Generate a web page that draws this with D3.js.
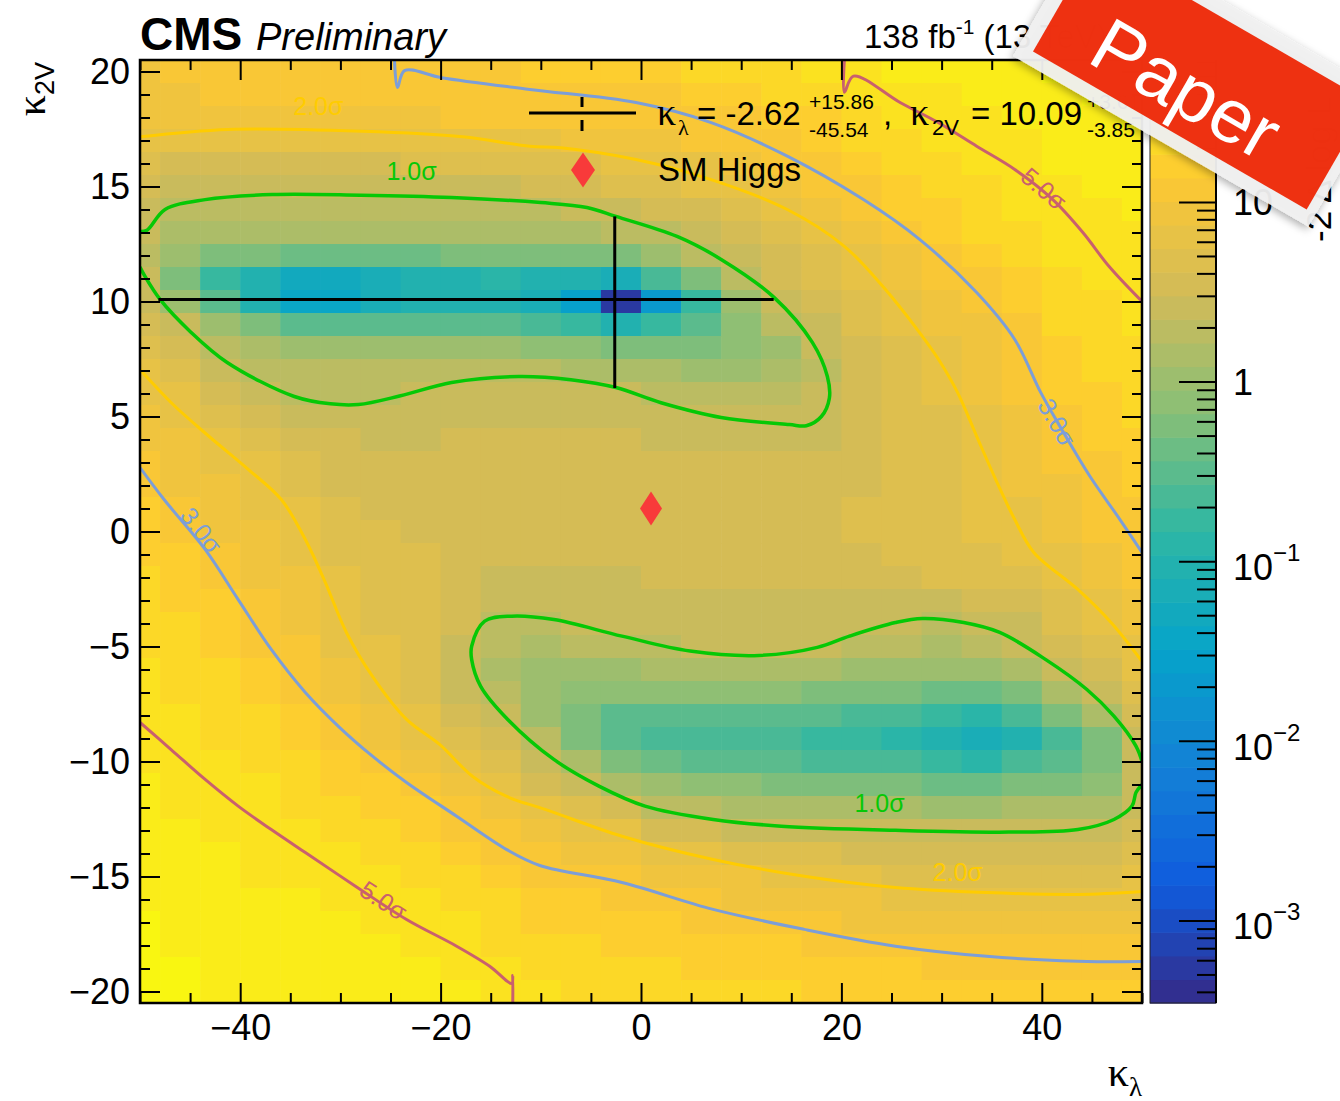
<!DOCTYPE html>
<html>
<head>
<meta charset="utf-8">
<title>kappa_lambda vs kappa_2V likelihood scan</title>
<script src="https://cdn.jsdelivr.net/npm/d3@7/dist/d3.min.js"></script>
<style>
  html, body { margin: 0; padding: 0; background: #fff; }
  svg { display: block; }
</style>
</head>
<body>
<svg id="chart" width="1340" height="1101"></svg>
<script>
// ---------------------------------------------------------------------------
// Scan grid: bin centres in kappa_lambda (4 units wide) and kappa_2V (1 unit)
// ---------------------------------------------------------------------------
const kappaLambdaBins = [-50, -46, -42, -38, -34, -30, -26, -22, -18, -14, -10, -6, -2,
                         2, 6, 10, 14, 18, 22, 26, 30, 34, 38, 42, 46, 50];
const kappa2VBins = [20, 19, 18, 17, 16, 15, 14, 13, 12, 11, 10, 9, 8, 7, 6, 5, 4, 3, 2, 1, 0,
                     -1, -2, -3, -4, -5, -6, -7, -8, -9, -10, -11, -12, -13, -14, -15, -16, -17, -18, -19, -20];

// -2 delta log L per bin, one row per kappa_2V bin (top to bottom)
const deltaNLL = [
  [10, 10.5, 10.8, 11, 11.2, 11.5, 11.7, 12.1, 12.5, 13, 14, 15, 16, 18, 20, 22, 24, 27, 30, 34, 38, 41, 44.5, 48, 52, 57],
  [9.2, 9.8, 10.1, 10.3, 10.5, 10.7, 10.9, 11.1, 11.3, 11.5, 11.6, 11.8, 12.3, 13.5, 15, 17, 19.5, 22, 25.5, 29.5, 33, 37, 41, 45, 49, 53],
  [8.0, 8.7, 9.0, 9.2, 9.3, 9.5, 9.7, 9.9, 10.1, 10.3, 10.6, 10.9, 11.2, 11.6, 12, 13.5, 15.5, 18, 21, 25, 29, 33, 37, 41.5, 45.5, 49],
  [6.0, 5.7, 5.6, 5.6, 5.6, 5.7, 5.8, 5.9, 6.05, 6.3, 6.9, 7.6, 8.5, 9.5, 10.8, 11.6, 13, 15.5, 18.5, 22, 26.5, 29.5, 33, 38, 42, 45],
  [4.5, 4.0, 3.9, 3.9, 3.9, 3.9, 4.0, 4.1, 4.3, 4.6, 5.0, 5.4, 5.9, 6.4, 7.4, 8.6, 10.5, 12.8, 15.5, 19, 23.5, 26.5, 30.5, 34.5, 38.5, 41.5],
  [3.4, 2.9, 2.7, 2.6, 2.6, 2.6, 2.65, 2.7, 2.8, 3.0, 3.3, 3.7, 4.2, 4.8, 5.6, 6.6, 8.2, 10.8, 13.5, 17, 21, 24, 27.8, 31.5, 35, 38],
  [2.7, 2.2, 2.05, 2.0, 2.0, 2.0, 2.0, 2.05, 2.1, 2.15, 2.2, 2.28, 2.6, 3.1, 3.8, 4.8, 6.0, 7.8, 10.8, 14, 18, 22, 25.5, 28.7, 32, 35],
  [2.35, 1.6, 1.4, 1.3, 1.3, 1.3, 1.3, 1.3, 1.3, 1.3, 1.35, 1.45, 1.7, 2.2, 2.9, 3.8, 4.9, 6.1, 8, 11, 15.3, 18.5, 22.5, 27, 30, 33],
  [2.2, 0.9, 0.6, 0.5, 0.45, 0.45, 0.45, 0.48, 0.5, 0.5, 0.5, 0.5, 0.6, 0.9, 1.8, 2.8, 4.0, 5.2, 6.6, 9.0, 12.4, 16, 20, 25, 28.9, 31.8],
  [2.3, 0.6, 0.15, 0.08, 0.05, 0.05, 0.07, 0.09, 0.1, 0.11, 0.1, 0.08, 0.06, 0.2, 0.6, 1.9, 3.2, 4.5, 5.7, 7.6, 10.8, 13.5, 17.5, 23.5, 26.8, 30.2],
  [2.7, 1.2, 0.3, 0.08, 0.035, 0.04, 0.06, 0.08, 0.09, 0.08, 0.06, 0.03, 0.0005, 0.02, 0.15, 0.9, 2.4, 3.6, 4.9, 6.5, 9.6, 11.7, 15.5, 21.5, 24.5, 28.7],
  [3.4, 2.5, 1.2, 0.5, 0.3, 0.28, 0.3, 0.32, 0.33, 0.3, 0.25, 0.18, 0.1, 0.15, 0.3, 0.8, 1.8, 3.0, 4.2, 5.6, 8.3, 10.0, 13, 19.8, 22.5, 26.5],
  [4.4, 3.4, 2.1, 1.4, 1.1, 1.05, 1.05, 1.1, 1.1, 1.0, 0.85, 0.7, 0.6, 0.55, 0.55, 0.7, 1.2, 2.4, 3.6, 5.0, 7.1, 9.0, 12.0, 18, 20.5, 24.3],
  [6.1, 4.6, 3.0, 2.1, 1.8, 1.7, 1.7, 1.75, 1.8, 1.75, 1.65, 1.55, 1.45, 1.3, 1.2, 1.2, 1.5, 2.2, 3.3, 4.7, 5.9, 8.2, 11.2, 16.3, 18.5, 22.2],
  [7.4, 5.5, 4.0, 2.8, 2.2, 2.05, 2.15, 2.3, 2.45, 2.55, 2.55, 2.45, 2.35, 2.15, 1.95, 1.9, 2.0, 2.3, 3.2, 4.5, 5.6, 7.6, 10.5, 14.6, 16.8, 20.2],
  [8.7, 6.5, 5.0, 3.8, 2.9, 2.7, 2.6, 2.65, 2.8, 2.9, 2.9, 2.8, 2.75, 2.6, 2.4, 2.25, 2.25, 2.4, 3.1, 4.3, 5.4, 7.0, 9.6, 12.8, 15, 18.5],
  [10.0, 7.6, 5.9, 4.7, 3.6, 3.1, 2.95, 3.0, 3.1, 3.2, 3.2, 3.1, 3.05, 3.0, 2.85, 2.75, 2.75, 2.9, 3.4, 4.3, 5.3, 6.3, 8.6, 11.4, 13.8, 17],
  [11.6, 8.8, 6.9, 5.5, 4.3, 3.55, 3.3, 3.3, 3.3, 3.4, 3.35, 3.3, 3.25, 3.2, 3.1, 3.05, 3.1, 3.3, 3.7, 4.4, 5.2, 6.0, 7.8, 10.4, 12.8, 15.8],
  [13.0, 10.0, 7.9, 6.4, 4.9, 4.0, 3.6, 3.55, 3.45, 3.5, 3.45, 3.4, 3.35, 3.35, 3.3, 3.3, 3.4, 3.6, 4.0, 4.6, 5.3, 5.7, 7.5, 9.4, 12.1, 14.6],
  [14.5, 11.2, 9.0, 7.2, 5.6, 4.4, 3.9, 3.75, 3.55, 3.5, 3.45, 3.4, 3.45, 3.45, 3.45, 3.5, 3.6, 3.8, 4.2, 4.8, 5.4, 5.8, 6.8, 8.4, 11.2, 13.5],
  [16, 12.7, 10.0, 8.1, 6.2, 4.85, 4.2, 3.95, 3.6, 3.4, 3.35, 3.35, 3.4, 3.45, 3.5, 3.55, 3.7, 3.95, 4.35, 4.9, 5.4, 5.9, 6.2, 7.6, 10.3, 12.5],
  [17.5, 14.3, 11.0, 8.9, 7.0, 5.25, 4.5, 4.1, 3.6, 3.2, 3.15, 3.2, 3.2, 3.3, 3.4, 3.45, 3.55, 3.75, 4.05, 4.5, 5.0, 5.4, 5.9, 6.8, 9.2, 11.7],
  [19, 15.9, 12.2, 9.8, 7.9, 5.6, 4.8, 4.25, 3.55, 2.9, 2.85, 2.95, 3.0, 3.1, 3.2, 3.2, 3.25, 3.35, 3.5, 3.8, 4.1, 4.6, 5.2, 6.0, 8.2, 10.8],
  [20.5, 17.6, 14.0, 10.6, 8.7, 5.9, 5.0, 4.35, 3.4, 2.55, 2.5, 2.65, 2.75, 2.85, 2.9, 2.9, 2.9, 2.9, 2.85, 2.9, 3.0, 3.4, 4.0, 5.1, 7.0, 9.6],
  [22, 19.2, 15.8, 11.5, 9.5, 6.4, 5.2, 4.45, 3.1, 2.2, 2.1, 2.35, 2.5, 2.55, 2.65, 2.65, 2.6, 2.55, 2.45, 2.25, 2.2, 2.45, 3.0, 4.2, 5.9, 8.2],
  [23.5, 20.9, 17.5, 12.5, 10.4, 7.0, 5.5, 4.55, 2.8, 1.8, 1.6, 1.7, 1.9, 2.2, 2.35, 2.4, 2.4, 2.3, 2.0, 1.7, 1.6, 1.8, 2.3, 3.3, 4.8, 6.9],
  [25, 22.5, 19.3, 15.1, 11.2, 8.8, 5.85, 4.7, 2.7, 1.6, 1.2, 1.2, 1.2, 1.4, 1.5, 1.5, 1.45, 1.4, 1.2, 1.0, 0.9, 1.0, 1.3, 2.4, 3.7, 5.9],
  [26.5, 24.2, 21.1, 17.1, 12.5, 10.0, 6.5, 5.0, 2.8, 1.8, 1.0, 0.8, 0.7, 0.7, 0.7, 0.7, 0.7, 0.65, 0.6, 0.5, 0.4, 0.45, 0.6, 1.3, 2.8, 4.9],
  [28.2, 25.8, 22.9, 19.2, 14.9, 11.2, 8.2, 5.6, 3.2, 2.4, 1.1, 0.55, 0.35, 0.3, 0.3, 0.3, 0.3, 0.28, 0.25, 0.2, 0.15, 0.14, 0.22, 0.5, 1.5, 3.9],
  [30.2, 27.4, 24.6, 21.2, 17.3, 13.0, 10.0, 6.9, 4.2, 3.3, 1.7, 0.6, 0.3, 0.25, 0.22, 0.2, 0.2, 0.18, 0.15, 0.12, 0.08, 0.06, 0.1, 0.22, 0.6, 3.0],
  [32, 29.1, 26.4, 23.3, 19.7, 15.6, 11.8, 8.9, 5.9, 4.4, 2.8, 1.3, 0.6, 0.45, 0.35, 0.3, 0.28, 0.25, 0.22, 0.2, 0.15, 0.13, 0.2, 0.3, 0.5, 2.35],
  [34, 31.1, 28.2, 25.4, 22.0, 18.3, 14.5, 11.1, 8.2, 5.5, 4.0, 2.6, 1.6, 1.0, 0.8, 0.7, 0.65, 0.6, 0.55, 0.5, 0.45, 0.45, 0.5, 0.65, 0.8, 2.35],
  [36, 33, 30.1, 27.4, 24.4, 20.9, 17.3, 13.8, 10.6, 7.7, 6.1, 4.9, 3.2, 2.2, 1.8, 1.6, 1.5, 1.4, 1.35, 1.3, 1.2, 1.2, 1.3, 1.4, 1.6, 3.0],
  [38, 35, 32, 29.5, 26.8, 23.5, 20.0, 16.7, 13.3, 10.2, 8.6, 7.2, 5.5, 4.0, 3.5, 3.0, 2.7, 2.5, 2.3, 2.3, 2.3, 2.25, 2.3, 2.35, 2.6, 3.7],
  [40, 37, 33.9, 31.6, 29.2, 26.2, 22.8, 19.6, 16.3, 12.7, 10.9, 9.6, 8.0, 6.9, 5.9, 5.0, 4.6, 4.2, 3.9, 3.7, 3.6, 3.6, 3.6, 3.6, 3.8, 4.6],
  [42, 39, 35.8, 33.6, 31.5, 28.8, 25.6, 22.4, 19.3, 15.8, 13.1, 12.0, 10.9, 9.8, 8.5, 7.5, 6.7, 6.0, 5.6, 5.3, 5.1, 5.0, 5.0, 5.0, 5.2, 5.6],
  [44, 41, 37.7, 35.6, 33.8, 31.4, 28.4, 25.3, 22.4, 18.8, 15.5, 14.4, 13.4, 12.4, 11.0, 10.0, 9.0, 8.2, 7.8, 7.3, 7.0, 6.8, 6.7, 6.6, 6.7, 6.8],
  [46, 43, 39.6, 37.6, 36, 34, 31.1, 28.2, 25.4, 21.8, 17.9, 16.7, 15.7, 14.7, 13.4, 12.5, 11.6, 10.7, 10.0, 9.5, 9.1, 8.8, 8.6, 8.5, 8.5, 8.6],
  [48, 45, 41.5, 39.6, 38.2, 36.5, 33.8, 31, 28.4, 24.8, 20.3, 19.0, 18.0, 17.0, 15.7, 14.8, 14.0, 13.1, 12.3, 11.7, 11.2, 10.9, 10.6, 10.4, 10.4, 10.5],
  [50, 47, 43.4, 41.6, 40.4, 39, 36.4, 33.8, 31.3, 27.8, 22.7, 21.3, 20.3, 19.3, 18.0, 17.1, 16.3, 15.4, 14.6, 14.0, 13.4, 13.1, 12.8, 12.5, 12.5, 12.5],
  [52, 49, 45.3, 43.6, 42.5, 41.5, 39, 36.5, 34, 30.8, 25.1, 23.6, 22.6, 21.6, 20.3, 19.4, 18.6, 17.7, 16.9, 16.3, 15.7, 15.4, 15.0, 14.8, 14.8, 14.8]
];

// ---------------------------------------------------------------------------
// Confidence contours, as (kappa_lambda, kappa_2V) points
// ---------------------------------------------------------------------------
const sigma1Upper = [[-50, 13.04], [-49.3, 13.1], [-47.5, 14.0], [-43.5, 14.43], [-36.8, 14.65], [-28, 14.62],
  [-18.9, 14.52], [-10, 14.3], [-5.4, 14.09], [-2.5, 13.7], [3.6, 12.83], [8.0, 11.83], [13.3, 10.17],
  [17.1, 8.22], [18.6, 6.74], [18.8, 5.8], [18.0, 5.0], [16.5, 4.6], [14.8, 4.65], [8.0, 4.96], [2, 5.6],
  [-2.5, 6.26], [-7, 6.6], [-12.2, 6.74], [-18.9, 6.48], [-24, 5.9], [-28.2, 5.52], [-31, 5.55],
  [-34.6, 5.87], [-41.3, 7.35], [-45, 8.7], [-48, 10.09], [-49.5, 11.09], [-50, 11.5]];
const sigma1Lower = [[50, -10.0], [49.4, -9.33], [47.2, -8.03], [44.5, -6.87], [40.4, -5.57], [35.8, -4.39],
  [32.2, -3.96], [28.1, -3.78], [25.4, -3.96], [20.8, -4.55], [17.6, -5.04], [11.8, -5.39], [4.9, -5.2],
  [-1.9, -4.55], [-8.7, -3.83], [-12.9, -3.68], [-15.6, -3.9], [-16.9, -4.99], [-16.9, -5.57], [-16.0, -6.73],
  [-13.3, -8.17], [-8.7, -9.91], [-4.2, -11.07], [0.4, -11.94], [7.2, -12.52], [14.0, -12.81], [25.4, -12.99],
  [36.7, -13.07], [43.6, -12.96], [47.2, -12.52], [49.0, -11.94], [49.4, -11.35], [50, -11.0]];
const sigma2Upper = [[-50, 17.16], [-41.2, 17.48], [-27.8, 17.4], [-17.8, 17.16], [-11.1, 16.75], [-8.0, 16.68],
  [-0.5, 16.17], [7.0, 15.3], [14.6, 14.0], [20.3, 12.4], [24.1, 10.67], [27.8, 8.65], [29.7, 7.48],
  [31.6, 6.04], [33.5, 4.14], [35.4, 2.26], [37.3, 0.52], [39.2, -0.91], [43.6, -2.52], [47, -4.0], [50, -5.65]];
const sigma2Lower = [[-50, 7.04], [-46.7, 5.52], [-43.1, 4.13], [-39.2, 2.7], [-35.9, 1.39], [-33.5, -0.35],
  [-31.5, -2.22], [-29.4, -4.39], [-26.8, -6.3], [-23.4, -8.17], [-20.1, -9.26], [-16.8, -10.65],
  [-13.4, -11.52], [-9.5, -12.09], [-1.9, -13.25], [7.2, -14.26], [16.3, -14.99], [25.4, -15.48],
  [34.5, -15.7], [43.6, -15.78], [50, -15.65]];
const sigma3Upper = [[-24.6, 20.5], [-24.3, 19.3], [-23.6, 20.04], [-19.9, 19.73], [-11.1, 19.22], [-0.5, 18.65],
  [7.0, 17.78], [14.6, 16.32], [22.2, 14.43], [27.8, 12.7], [33.5, 10.39], [37.3, 8.35], [39.9, 6.04],
  [41.8, 4.58], [44.8, 2.4], [47.8, 0.52], [50, -0.91]];
const sigma3Lower = [[-50, 2.78], [-47.6, 1.39], [-43.5, -0.78], [-40.2, -2.96], [-36.9, -5.13], [-33.5, -7.0],
  [-30.2, -8.47], [-26.8, -9.77], [-23.4, -10.91], [-18.4, -12.38], [-13.4, -13.83], [-10.1, -14.52],
  [-1.9, -15.26], [7.2, -16.43], [16.3, -17.3], [25.4, -18.03], [34.5, -18.47], [43.6, -18.68], [50, -18.7]];
const sigma5Upper = [[20.3, 20.5], [20.3, 19.1], [21.2, 19.8], [25.9, 18.64], [29.7, 17.77], [33.5, 16.75],
  [37.3, 15.74], [41.1, 14.43], [44.1, 13.0], [46.7, 11.53], [50, 10.0]];
const sigma5Lower = [[-50, -8.3], [-46.9, -9.48], [-43.5, -10.78], [-40.2, -11.94], [-36.9, -12.96],
  [-33.5, -13.96], [-28.5, -15.42], [-23.4, -16.87], [-18.4, -18.03], [-15.1, -18.9], [-12.9, -19.65],
  [-12.8, -19.3], [-12.8, -20.5]];

// Contour labels: text, position in (kappa_lambda, kappa_2V), rotation
const contourLabels = [
  { text: "1.0σ", kl: -22.9, k2v: 15.65, angle: 0, level: 1 },
  { text: "2.0σ", kl: -32.2, k2v: 18.5, angle: 0, level: 2 },
  { text: "5.0σ", kl: 40.2, k2v: 14.9, angle: 40, level: 5 },
  { text: "3.0σ", kl: 41.5, k2v: 4.75, angle: 60, level: 3 },
  { text: "3.0σ", kl: -43.9, k2v: 0.05, angle: 52, level: 3 },
  { text: "5.0σ", kl: -25.7, k2v: -16.05, angle: 33, level: 5 },
  { text: "1.0σ", kl: 23.8, k2v: -11.8, angle: 0, level: 1 },
  { text: "2.0σ", kl: 31.6, k2v: -14.8, angle: 0, level: 2 }
];

// Best fit with asymmetric uncertainties, and the SM expectation
const bestFit = { kl: -2.62, klUp: 15.86, klDown: 45.54, k2v: 10.09, k2vUp: 3.61, k2vDown: 3.85 };
const smPoint = { kl: 1, k2v: 1 };

// Axis tick values
const xMajorTicks = [-40, -20, 0, 20, 40];
const xMinorTicks = [-50, -45, -35, -30, -25, -15, -10, -5, 5, 10, 15, 25, 30, 35, 45, 50];
const yMajorTicks = [-20, -15, -10, -5, 0, 5, 10, 15, 20];
const zMajorTicks = [0.001, 0.01, 0.1, 1, 10];
const zMajorLabels = [["10", "\u22123"], ["10", "\u22122"], ["10", "\u22121"], ["1", ""], ["10", ""]];

// ---------------------------------------------------------------------------
// Layout & scales
// ---------------------------------------------------------------------------
const P = { left: 140, right: 1142, top: 60, bottom: 1003 };
const CB = { left: 1150, right: 1216 };
const x = d3.scaleLinear().domain([-50, 50]).range([P.left, P.right]);
const y = d3.scaleLinear().domain([-20.5, 20.5]).range([P.bottom, P.top]);
const zMin = Math.pow(10, -3.46), zMax = Math.pow(10, 1.79);
const zAxisScale = d3.scaleLog().domain([zMin, zMax]).range([P.bottom, P.top]);
const zFrac = d3.scaleLog().domain([zMin, zMax]).range([0, 1]).clamp(true);

// ROOT "bird" palette
const birdStops = [0, 0.125, 0.25, 0.375, 0.5, 0.625, 0.75, 0.875, 1];
const birdR = [0.2082, 0.0592, 0.0780, 0.0232, 0.1802, 0.5301, 0.8186, 0.9956, 0.9764];
const birdG = [0.1664, 0.3599, 0.5041, 0.6419, 0.7178, 0.7492, 0.7328, 0.7862, 0.9832];
const birdB = [0.5293, 0.8684, 0.8385, 0.7914, 0.6425, 0.4662, 0.3499, 0.1968, 0.0539];
const bird = d3.scaleLinear().domain(birdStops)
  .range(birdStops.map((s, i) => d3.rgb(birdR[i] * 255, birdG[i] * 255, birdB[i] * 255)))
  .interpolate(d3.interpolateRgb);
const nLevels = 40;
function levelColour(v) {
  const t = zFrac(v);
  const q = Math.min(nLevels - 1, Math.floor(t * nLevels));
  return bird((q + 0.5) / nLevels);
}

const contourColour = { 1: "#06c806", 2: "#ffcc00", 3: "#7c9ed8", 5: "#c9606e" };
const SANS = "'Liberation Sans', Arial, Helvetica, sans-serif";
const SERIF = "'Liberation Serif', 'Times New Roman', serif";
const fmt = d => (d < 0 ? "\u2212" + Math.abs(d) : String(d));

const svg = d3.select("#chart");
const defs = svg.append("defs");
defs.append("clipPath").attr("id", "plot-clip")
  .append("rect").attr("x", P.left).attr("y", P.top)
  .attr("width", P.right - P.left).attr("height", P.bottom - P.top);
const shadow = defs.append("filter").attr("id", "sticker-shadow")
  .attr("x", "-20%").attr("y", "-30%").attr("width", "140%").attr("height", "160%");
shadow.append("feDropShadow").attr("dx", 0).attr("dy", 3).attr("stdDeviation", 4)
  .attr("flood-color", "#000").attr("flood-opacity", 0.35);

svg.append("rect").attr("width", 1340).attr("height", 1101).attr("fill", "#fff");

// ---------------------------------------------------------------------------
// 2D histogram
// ---------------------------------------------------------------------------
const cells = [];
kappa2VBins.forEach((k2v, i) => {
  kappaLambdaBins.forEach((kl, j) => cells.push({ kl, k2v, v: deltaNLL[i][j] }));
});
svg.append("g").attr("clip-path", "url(#plot-clip)")
  .selectAll("rect").data(cells).join("rect")
  .attr("x", d => x(d.kl - 2))
  .attr("y", d => y(d.k2v + 0.5))
  .attr("width", d => x(d.kl + 2) - x(d.kl - 2) + 0.6)
  .attr("height", d => y(d.k2v - 0.5) - y(d.k2v + 0.5) + 0.6)
  .attr("fill", d => levelColour(d.v));

// ---------------------------------------------------------------------------
// Contours and their labels
// ---------------------------------------------------------------------------
const contourLine = d3.line().x(d => x(d[0])).y(d => y(d[1])).curve(d3.curveCatmullRom.alpha(0.5));
const contours = [
  { pts: sigma5Upper, level: 5, w: 3 }, { pts: sigma5Lower, level: 5, w: 3 },
  { pts: sigma3Upper, level: 3, w: 3 }, { pts: sigma3Lower, level: 3, w: 3 },
  { pts: sigma2Upper, level: 2, w: 3 }, { pts: sigma2Lower, level: 2, w: 3 },
  { pts: sigma1Upper, level: 1, w: 3.5 }, { pts: sigma1Lower, level: 1, w: 3.5 }
];
const gCont = svg.append("g").attr("clip-path", "url(#plot-clip)");
gCont.selectAll("path").data(contours).join("path")
  .attr("d", d => contourLine(d.pts))
  .attr("fill", "none")
  .attr("stroke", d => contourColour[d.level])
  .attr("stroke-width", d => d.w)
  .attr("stroke-linejoin", "round");

svg.append("g").selectAll("text").data(contourLabels).join("text")
  .attr("transform", d => `translate(${x(d.kl)},${y(d.k2v)}) rotate(${d.angle})`)
  .attr("text-anchor", "middle").attr("dy", "0.35em")
  .attr("font-family", SANS).attr("font-size", 25)
  .attr("fill", d => contourColour[d.level])
  .text(d => d.text);

// ---------------------------------------------------------------------------
// Best fit cross and SM point
// ---------------------------------------------------------------------------
const gFit = svg.append("g").attr("stroke", "#000").attr("stroke-width", 3);
gFit.append("line")
  .attr("x1", x(bestFit.kl - bestFit.klDown)).attr("x2", x(bestFit.kl + bestFit.klUp))
  .attr("y1", y(bestFit.k2v)).attr("y2", y(bestFit.k2v));
gFit.append("line")
  .attr("x1", x(bestFit.kl)).attr("x2", x(bestFit.kl))
  .attr("y1", y(bestFit.k2v - bestFit.k2vDown)).attr("y2", y(bestFit.k2v + bestFit.k2vUp));

function diamond(cx, cy, hw, hh) {
  return `M${cx},${cy - hh}L${cx + hw},${cy}L${cx},${cy + hh}L${cx - hw},${cy}Z`;
}
svg.append("path").attr("d", diamond(x(smPoint.kl), y(smPoint.k2v), 11, 17)).attr("fill", "#f83a3a");

// ---------------------------------------------------------------------------
// Legend
// ---------------------------------------------------------------------------
const gLeg = svg.append("g");
gLeg.append("line").attr("x1", 529).attr("x2", 636).attr("y1", 113).attr("y2", 113)
  .attr("stroke", "#000").attr("stroke-width", 3);
gLeg.append("line").attr("x1", 582).attr("x2", 582).attr("y1", 97).attr("y2", 107)
  .attr("stroke", "#000").attr("stroke-width", 3);
gLeg.append("line").attr("x1", 582).attr("x2", 582).attr("y1", 120).attr("y2", 131)
  .attr("stroke", "#000").attr("stroke-width", 3);
gLeg.append("path").attr("d", diamond(583, 170, 12, 17.5)).attr("fill", "#f83a3a");

function legText(tx, ty, str, size, family, style) {
  return gLeg.append("text").attr("x", tx).attr("y", ty).attr("font-family", family || SANS)
    .attr("font-size", size).attr("font-style", style || "normal").attr("fill", "#000").text(str);
}
legText(657, 125, "κ", 38, SERIF);
legText(678, 135, "λ", 22, SERIF);
legText(697, 125, "= -2.62", 33);
legText(809, 109, "+" + bestFit.klUp.toFixed(2), 21);
legText(809, 137, "-" + bestFit.klDown.toFixed(2), 21);
legText(883, 125, ",", 33);
legText(910, 125, "κ", 38, SERIF);
legText(932, 135, "2V", 22);
legText(971, 125, "= " + bestFit.k2v.toFixed(2), 33);
legText(1087, 109, "+" + bestFit.k2vUp.toFixed(2), 21);
legText(1087, 137, "-" + bestFit.k2vDown.toFixed(2), 21);
legText(658, 181, "SM Higgs", 33);

// ---------------------------------------------------------------------------
// Frame, axes and ticks
// ---------------------------------------------------------------------------
function styleAxis(g) {
  g.select(".domain").remove();
  g.selectAll(".tick line").attr("stroke", "#000").attr("stroke-width", 2);
  g.selectAll(".tick text").attr("font-family", SANS).attr("font-size", 36).attr("fill", "#000");
}
svg.append("g").attr("transform", `translate(0,${P.bottom})`)
  .call(d3.axisBottom(x).tickValues(xMajorTicks).tickSize(-20).tickPadding(11).tickFormat(fmt)).call(styleAxis);
svg.append("g").attr("transform", `translate(0,${P.bottom})`)
  .call(d3.axisBottom(x).tickValues(xMinorTicks).tickSize(-10).tickFormat("")).call(styleAxis);
svg.append("g").attr("transform", `translate(0,${P.top})`)
  .call(d3.axisTop(x).tickValues(xMajorTicks).tickSize(-20).tickFormat("")).call(styleAxis);
svg.append("g").attr("transform", `translate(0,${P.top})`)
  .call(d3.axisTop(x).tickValues(xMinorTicks).tickSize(-10).tickFormat("")).call(styleAxis);

const yMinorTicks = d3.range(-20, 21).filter(v => v % 5 !== 0);
svg.append("g").attr("transform", `translate(${P.left},0)`)
  .call(d3.axisLeft(y).tickValues(yMajorTicks).tickSize(-20).tickPadding(10).tickFormat(fmt)).call(styleAxis);
svg.append("g").attr("transform", `translate(${P.left},0)`)
  .call(d3.axisLeft(y).tickValues(yMinorTicks).tickSize(-10).tickFormat("")).call(styleAxis);
svg.append("g").attr("transform", `translate(${P.right},0)`)
  .call(d3.axisRight(y).tickValues(yMajorTicks).tickSize(-20).tickFormat("")).call(styleAxis);
svg.append("g").attr("transform", `translate(${P.right},0)`)
  .call(d3.axisRight(y).tickValues(yMinorTicks).tickSize(-10).tickFormat("")).call(styleAxis);

svg.append("rect").attr("x", P.left).attr("y", P.top)
  .attr("width", P.right - P.left).attr("height", P.bottom - P.top)
  .attr("fill", "none").attr("stroke", "#000").attr("stroke-width", 2.5);

// Axis titles
svg.append("text").attr("x", P.right).attr("y", 1086).attr("text-anchor", "end")
  .call(t => {
    t.append("tspan").attr("font-family", SERIF).attr("font-size", 42).text("κ");
    t.append("tspan").attr("font-family", SERIF).attr("font-size", 27).attr("dy", 10).text("λ");
  });
svg.append("text").attr("transform", "translate(45,62) rotate(-90)").attr("text-anchor", "end")
  .call(t => {
    t.append("tspan").attr("font-family", SERIF).attr("font-size", 42).text("κ");
    t.append("tspan").attr("font-family", SANS).attr("font-size", 27).attr("dy", 9).text("2V");
  });

// ---------------------------------------------------------------------------
// Colour scale
// ---------------------------------------------------------------------------
const bands = d3.range(nLevels);
svg.append("g").selectAll("rect").data(bands).join("rect")
  .attr("x", CB.left).attr("width", CB.right - CB.left)
  .attr("y", i => zAxisScale(Math.pow(10, Math.log10(zMin) + (i + 1) / nLevels * Math.log10(zMax / zMin))))
  .attr("height", (P.bottom - P.top) / nLevels + 0.6)
  .attr("fill", i => bird((i + 0.5) / nLevels));
svg.append("rect").attr("x", CB.left).attr("y", P.top).attr("width", CB.right - CB.left)
  .attr("height", P.bottom - P.top).attr("fill", "none").attr("stroke", "#222").attr("stroke-width", 1);

const zMinorTicks = [];
[-4, -3, -2, -1, 0, 1].forEach(e => {
  for (let m = 2; m <= 9; m++) {
    const v = m * Math.pow(10, e);
    if (v > zMin && v < zMax) zMinorTicks.push(v);
  }
});
svg.append("g").attr("transform", `translate(${CB.right},0)`)
  .call(d3.axisLeft(zAxisScale).tickValues(zMajorTicks).tickSize(37).tickFormat("")).call(styleAxis);
svg.append("g").attr("transform", `translate(${CB.right},0)`)
  .call(d3.axisLeft(zAxisScale).tickValues(zMinorTicks).tickSize(19).tickFormat("")).call(styleAxis);
svg.append("line").attr("x1", CB.right).attr("x2", CB.right).attr("y1", P.top).attr("y2", P.bottom)
  .attr("stroke", "#000").attr("stroke-width", 2);

const gZLab = svg.append("g");
zMajorTicks.forEach((v, i) => {
  const [base, expo] = zMajorLabels[i];
  const ty = zAxisScale(v);
  const t = gZLab.append("text").attr("x", 1233).attr("y", expo ? ty + 19 : ty + 13)
    .attr("font-family", SANS).attr("font-size", 36).attr("fill", "#000");
  t.append("tspan").text(base);
  if (expo) t.append("tspan").attr("font-size", 24).attr("dy", -19).text(expo);
});
svg.append("text").attr("transform", "translate(1331,242) rotate(-90)")
  .attr("font-family", SANS).attr("font-size", 35).attr("fill", "#000").text("-2 Δ log L");

// ---------------------------------------------------------------------------
// Header
// ---------------------------------------------------------------------------
svg.append("text").attr("x", 140).attr("y", 50).attr("font-family", SANS)
  .attr("font-size", 46).attr("font-weight", "bold").text("CMS");
svg.append("text").attr("x", 256).attr("y", 50).attr("font-family", SANS)
  .attr("font-size", 38).attr("font-style", "italic").text("Preliminary");
svg.append("text").attr("x", 864).attr("y", 48).attr("font-family", SANS).attr("font-size", 33)
  .call(t => {
    t.append("tspan").text("138 fb");
    t.append("tspan").attr("font-size", 21).attr("dy", -14).text("-1");
    t.append("tspan").attr("dy", 14).text(" (13 TeV)");
  });

// ---------------------------------------------------------------------------
// "Paper" sticker in the corner
// ---------------------------------------------------------------------------
const sticker = svg.append("g").attr("transform", "translate(1035,48) rotate(30)");
sticker.append("rect").attr("x", -15).attr("y", -135).attr("width", 341).attr("height", 153)
  .attr("fill", "#f1f1f1").attr("fill-opacity", 0.94).attr("filter", "url(#sticker-shadow)");
sticker.append("rect").attr("x", 0).attr("y", -120).attr("width", 316).attr("height", 124)
  .attr("fill", "#ee2200").attr("fill-opacity", 0.93);
sticker.append("text").attr("x", 50).attr("y", -14).attr("text-anchor", "start")
  .attr("font-family", SANS).attr("font-size", 76).attr("fill", "#fff").text("Paper");
</script>
</body>
</html>
